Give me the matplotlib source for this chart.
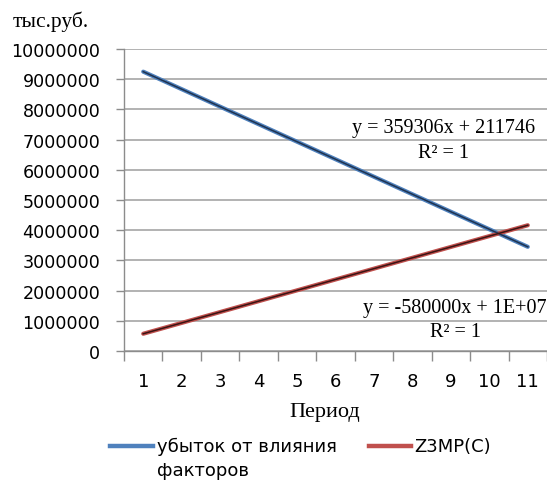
import numpy as np
import matplotlib
matplotlib.use("Agg")
from matplotlib import pyplot as plt
from matplotlib.lines import Line2D

periods = [1, 2, 3, 4, 5, 6, 7, 8, 9, 10, 11]
loss_factors = [9250000, 8670000, 8090000, 7510000, 6930000, 6350000,
                5770000, 5190000, 4610000, 4030000, 3450000]
z3mp = [571052, 930358, 1289664, 1648970, 2008276, 2367582,
        2726888, 3086194, 3445500, 3804806, 4164112]
y_ticks = [0, 1000000, 2000000, 3000000, 4000000, 5000000,
           6000000, 7000000, 8000000, 9000000, 10000000]

blue = "#4f81bd"
red = "#c0504d"
serif = "Liberation Serif"

fig = plt.figure(figsize=(5.47, 4.81), dpi=100)
ax = fig.add_axes([124 / 547, 1 - 352 / 481, 1 - 124 / 547, (352 - 50) / 481])

x = np.array(periods)
ax.plot(x, loss_factors, color=blue, lw=3.0, solid_capstyle="round", zorder=3)
ax.plot(x, z3mp, color=red, lw=3.0, solid_capstyle="round", zorder=3)

# линии тренда
for ys, c in [(loss_factors, "#1f3350"), (z3mp, "#3a1414")]:
    k, b = np.polyfit(x, ys, 1)
    ax.plot(x, k * x + b, color=c, lw=1.1, zorder=4)

ax.set_xlim(0.5, 11.5)
ax.set_ylim(0, 10000000)
ax.set_yticks(y_ticks)
ax.set_yticklabels([str(v) for v in y_ticks])
ax.set_xticks(periods)
ax.set_xticks(np.arange(0.5, 12, 1), minor=True)
ax.tick_params(axis="x", which="major", length=0, pad=15, labelsize=13)
ax.tick_params(axis="x", which="minor", length=7, color="#8c8c8c", width=1)
ax.tick_params(axis="y", length=6, color="#8c8c8c", width=1, labelsize=12.6, pad=11)
ax.grid(axis="y", color="#a6a6a6", lw=1.2)
for s in ["top", "right"]:
    ax.spines[s].set_visible(False)
for s in ["left", "bottom"]:
    ax.spines[s].set_color("#8c8c8c")
    ax.spines[s].set_linewidth(1)
ax.set_axisbelow(True)

fig.text(13 / 547, 1 - 22 / 481, "тыс.руб.", family=serif, fontsize=15.5, va="center")
fig.text(325 / 547, 1 - 413 / 481, "Период", family=serif, fontsize=16,
         ha="center", va="center")

fig.text(444 / 547, 1 - 129 / 481, "y = 359306x + 211746", family=serif,
         fontsize=14.5, ha="center", va="center")
fig.text(444 / 547, 1 - 154 / 481, "R² = 1", family=serif,
         fontsize=14.5, ha="center", va="center")
fig.text(455 / 547, 1 - 309 / 481, "y = -580000x + 1E+07", family=serif,
         fontsize=14.5, ha="center", va="center")
fig.text(455 / 547, 1 - 333 / 481, "R² = 1", family=serif,
         fontsize=14.5, ha="center", va="center")

# легенда
fig.add_artist(Line2D([110 / 547, 153 / 547], [1 - 447 / 481] * 2,
                      color=blue, lw=3.2, transform=fig.transFigure))
fig.text(157 / 547, 1 - 447 / 481, "убыток от влияния", fontsize=13, va="center")
fig.text(157 / 547, 1 - 471 / 481, "факторов", fontsize=13, va="center")
fig.add_artist(Line2D([369 / 547, 411 / 547], [1 - 447 / 481] * 2,
                      color=red, lw=3.2, transform=fig.transFigure))
fig.text(414 / 547, 1 - 447 / 481, "Z3MP(C)", fontsize=13, va="center")

fig.savefig("out.png", dpi=100)
